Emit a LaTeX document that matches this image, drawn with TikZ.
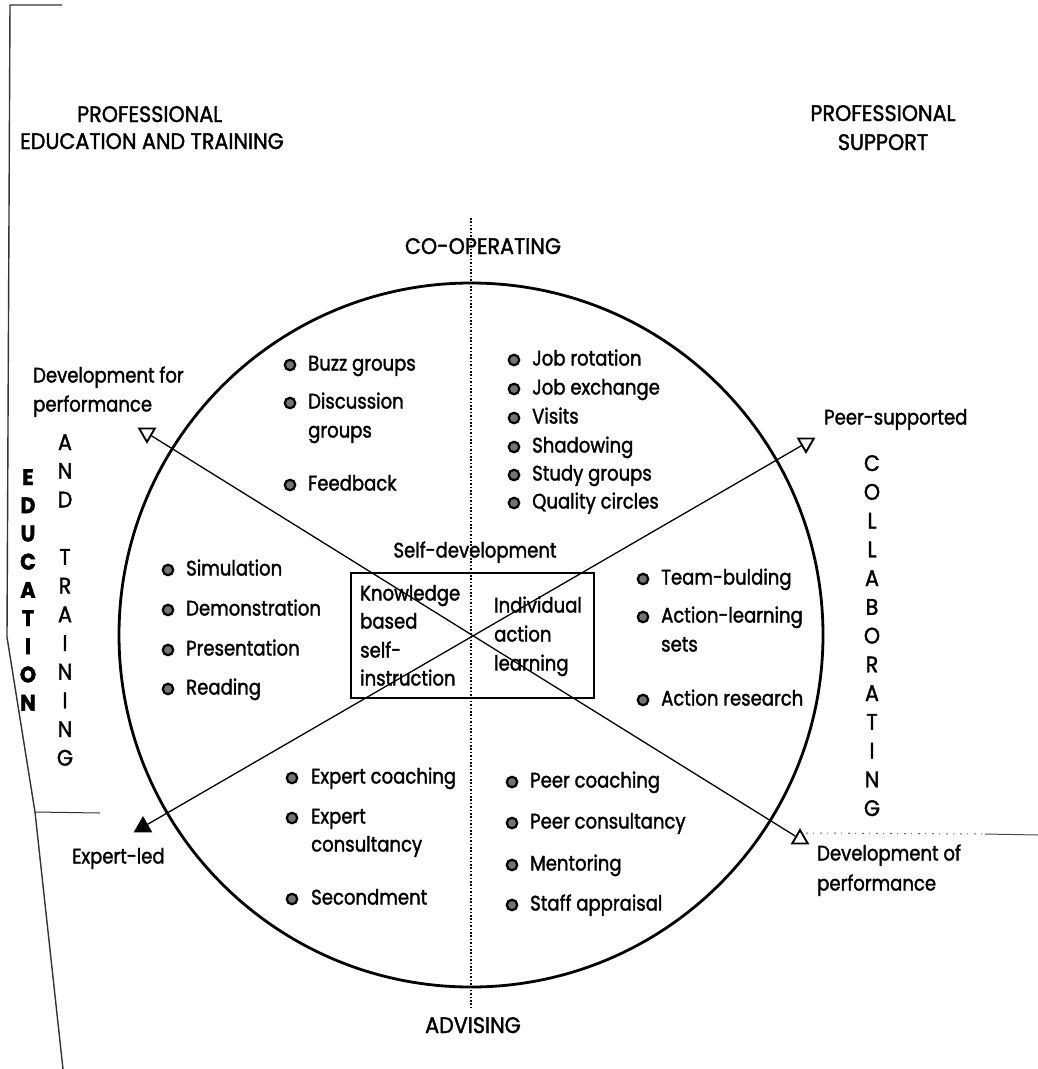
\documentclass[tikz,border=0pt]{standalone}
\usepackage{fontspec}
\setmainfont[FakeStretch=0.86, FakeBold=1.6]{Poppins}
\newfontfamily\capsfont[FakeStretch=0.92, FakeBold=1.6]{Poppins}
\usetikzlibrary{shapes.geometric}

\begin{document}
\begin{tikzpicture}[x=1pt,y=-1pt,
  lbl/.style={inner sep=0pt, font=\fontsize{21}{25}\selectfont, text height=15pt, text depth=4pt},
  caps/.style={inner sep=0pt, font=\capsfont\fontsize{22.5}{26}\selectfont, text height=16pt, text depth=0pt},
  item/.style={lbl, anchor=west},
  bul/.style={circle, draw, line width=2.2pt, fill=black!55, minimum size=10.5pt, inner sep=0pt},
  vlet/.style={caps, anchor=center},
  blet/.style={vlet, font=\capsfont\fontsize{22.5}{26}\selectfont\bfseries},
  tri/.style={regular polygon, regular polygon sides=3, draw, line width=1.9pt, fill=white, minimum size=18pt, inner sep=0pt},
  down/.style={shape border rotate=180},
  diag/.style={line width=1.3pt},
  edge/.style={line width=1.4pt, black!80},
  speck/.style={line width=1pt, black!60, dash pattern=on 2pt off 5pt on 1pt off 6pt}
]
\useasboundingbox (0,0) rectangle (1038,1069);

% page edge marks
\coordinate (e1) at (62,5);
\coordinate (e2) at (10,5);
\coordinate (e3) at (7,637);
\coordinate (e4) at (35,812);
\coordinate (e5) at (63,1069);
\coordinate (e6) at (100,813);
\coordinate (r1) at (806,833);
\coordinate (r2) at (985,834);
\coordinate (r3) at (1038,835);
\draw[edge] (e1) -- (e2) -- (e3) -- (e4) -- (e5);
\draw[edge, line width=1pt] (e4) -- (e6);
\draw[speck] (r1) -- (r2);
\draw[line width=1pt, black!70] (r2) -- (r3);

% main circle and vertical divider
\node[circle, draw, line width=2.8pt, minimum size=704pt, inner sep=0pt] (ring) at (471,635) {};
\coordinate (dtop) at (471,218);
\coordinate (dbot) at (471,1008);
\draw[line width=1.3pt, dash pattern=on 1.6pt off 1.8pt] (dtop) -- (dbot);

% corner headings
\node[caps, anchor=west] (pe1) at (77,114) {PROFESSIONAL};
\node[caps, anchor=west] (pe2) at (20,141) {EDUCATION AND TRAINING};
\node[caps] (ps1) at (883,113) {PROFESSIONAL};
\node[caps] (ps2) at (883,142) {SUPPORT};
\node[caps] (coop) at (483,246) {CO-OPERATING};
\node[caps] (adv) at (473,1025) {ADVISING};

% central box
\node[draw, line width=2.2pt, minimum width=243pt, minimum height=125pt, inner sep=0pt] (box) at (472.5,635.5) {};
\node[lbl] (self) at (475,552) {Self-development};

% axis end markers and diagonals
\node[tri, down] (tDF) at (147,433) {};
\node[tri, down] (tPS) at (806,443) {};
\node[tri] (tDO) at (800,839) {};
\node[tri, fill=black] (tEL) at (143,827) {};
\draw[diag] (tDF) -- (tDO);
\draw[diag] (tEL) -- (tPS);

% box texts
\node[item] (k1) at (360,595) {Knowledge};
\node[item] (k2) at (360,623) {based};
\node[item] (k3) at (360,652) {self-};
\node[item] (k4) at (360,680) {instruction};
\node[item] (i1) at (494,607) {Individual};
\node[item] (i2) at (494,636) {action};
\node[item] (i3) at (494,665) {learning};

% axis labels
\node[item] (df1) at (33,377) {Development for};
\node[item] (df2) at (33,406) {performance};
\node[item] (psl) at (824,419) {Peer-supported};
\node[item] (ell) at (72,858) {Expert-led};
\node[item] (do1) at (817,855) {Development of};
\node[item] (do2) at (817,885) {performance};

% upper left quadrant
\foreach \y/\t [count=\i] in {365/Buzz groups, 403/Discussion, 485/Feedback} {
  \node[bul] (ulb\i) at (290,\y) {};
  \node[item] (ul\i) at (308,\y) {\t};
}
\node[item] (ul4) at (308,432) {groups};

% upper right quadrant
\foreach \y/\t [count=\i] in {360/Job rotation, 389/Job exchange, 418/Visits, 447/Shadowing, 475/Study groups, 503/Quality circles} {
  \node[bul] (urb\i) at (514,\y) {};
  \node[item] (ur\i) at (532,\y) {\t};
}

% left middle
\foreach \y/\t [count=\i] in {570/Simulation, 610/Demonstration, 650/Presentation, 689/Reading} {
  \node[bul] (lmb\i) at (168,\y) {};
  \node[item] (lm\i) at (186,\y) {\t};
}

% right middle
\foreach \y/\t [count=\i] in {579/Team-bulding, 617/Action-learning, 700/Action research} {
  \node[bul] (rmb\i) at (643,\y) {};
  \node[item] (rm\i) at (661,\y) {\t};
}
\node[item] (rm4) at (661,646) {sets};

% lower left quadrant
\foreach \y/\t [count=\i] in {778/Expert coaching, 818/Expert, 899/Secondment} {
  \node[bul] (llb\i) at (292,\y) {};
  \node[item] (ll\i) at (311,\y) {\t};
}
\node[item] (ll4) at (311,846) {consultancy};

% lower right quadrant
\foreach \y/\t [count=\i] in {782/Peer coaching, 823/Peer consultancy, 865/Mentoring, 905/Staff appraisal} {
  \node[bul] (lrb\i) at (512,\y) {};
  \node[item] (lr\i) at (530,\y) {\t};
}

% vertical words
\foreach \l [count=\i] in {C,O,L,L,A,B,O,R,A,T,I,N,G}
  \node[vlet] (col\i) at (872,{463+28.75*(\i-1)}) {\l};
\foreach \l/\k [count=\i] in {A/0,N/1,D/2,T/4,R/5,A/6,I/7,N/8,I/9,N/10,G/11}
  \node[vlet] (tr\i) at (65,{442+28.7*\k}) {\l};
\foreach \l [count=\i] in {E,D,U,C,A,T,I,O,N}
  \node[blet] (ed\i) at (28,{477+28.2*(\i-1)}) {\l};
\end{tikzpicture}
\end{document}
